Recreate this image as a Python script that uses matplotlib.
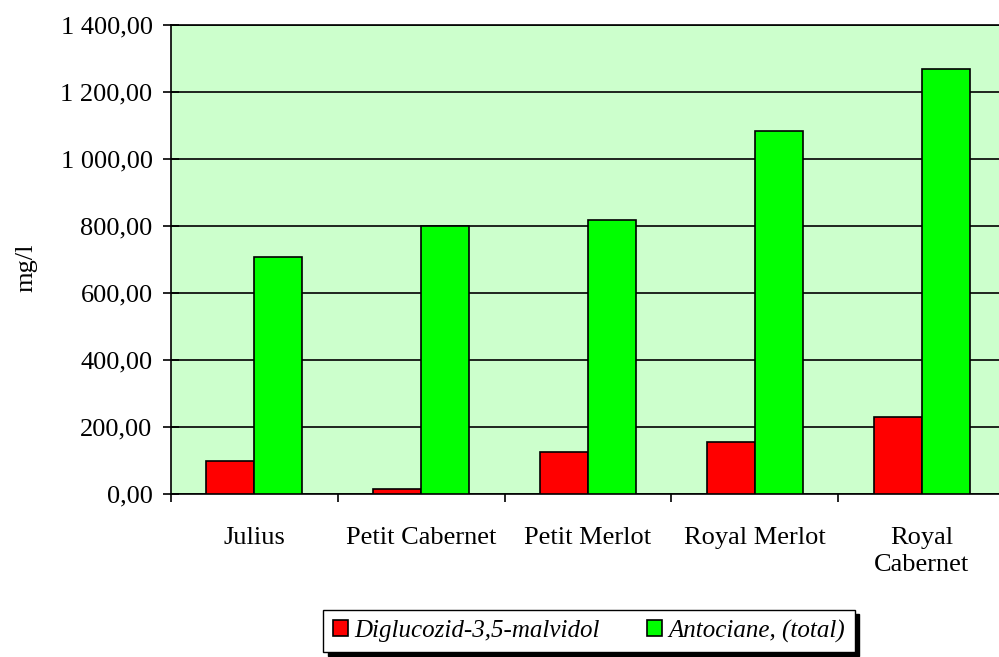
import numpy as np
import matplotlib.pyplot as plt
from matplotlib.ticker import FuncFormatter, FixedLocator

plt.rcParams['font.family'] = ['Liberation Serif', 'DejaVu Serif']

soiuri = ['Julius', 'Petit Cabernet', 'Petit Merlot', 'Royal Merlot', 'Royal\nCabernet']
malvidol = [100, 15, 125, 155, 230]
antociane = [707, 800, 818, 1083, 1270]

fig = plt.figure(figsize=(9.99, 6.57), dpi=100)
# zona graficului depaseste putin marginea din dreapta, ca in original
ax = fig.add_axes([171/999, 1-494/657, 834/999, 469/657])
ax.set_facecolor('#CCFFCC')

x = np.arange(len(soiuri))
w = 0.288
ax.bar(x - w/2, malvidol, w, color='#FF0000', edgecolor='black', lw=1.2,
       label='Diglucozid-3,5-malvidol', zorder=3)
ax.bar(x + w/2, antociane, w, color='#00FF00', edgecolor='black', lw=1.2,
       label='Antociane, (total)', zorder=3)

ax.set_xlim(-0.5, len(soiuri) - 0.5)
ax.set_ylim(0, 1400)
ax.set_yticks(np.arange(0, 1401, 200))
ax.yaxis.grid(True, color='black', lw=1.2, zorder=1)

def fmt(v, pos):
    s = '{:,.2f}'.format(v).replace(',', ' ').replace('.', ',')
    return s
ax.yaxis.set_major_formatter(FuncFormatter(fmt))

ax.set_xticks(x)
ax.set_xticklabels(soiuri, fontsize=19, linespacing=1.25)
ax.tick_params(axis='x', length=0, pad=24)
ax.xaxis.set_minor_locator(FixedLocator(np.arange(-0.5, len(soiuri), 1)))
ax.tick_params(axis='x', which='minor', length=6, width=1.2, direction='out')
ax.tick_params(axis='y', labelsize=19, length=11.5, width=1.2, direction='inout', pad=7.5)

for s in ['right']:
    ax.spines[s].set_visible(False)
for s in ['left', 'bottom', 'top']:
    ax.spines[s].set_linewidth(1.2)

ax.set_ylabel('mg/l', fontsize=19)
ax.yaxis.set_label_coords(-(171-37)/834, (494-268)/469)

leg = fig.legend(loc='center', bbox_to_anchor=(589/999, 1-631/657), ncol=2,
                 prop={'style': 'italic', 'size': 18},
                 frameon=True, fancybox=False,
                 shadow={'color': 'black', 'alpha': 1, 'ox': 3, 'oy': -3},
                 edgecolor='black',
                 handlelength=0.6, handleheight=0.6, handletextpad=0.25,
                 columnspacing=1.9, borderpad=0.38, borderaxespad=0)
leg.get_frame().set_linewidth(1.0)

fig.savefig('out.png', dpi=100)
